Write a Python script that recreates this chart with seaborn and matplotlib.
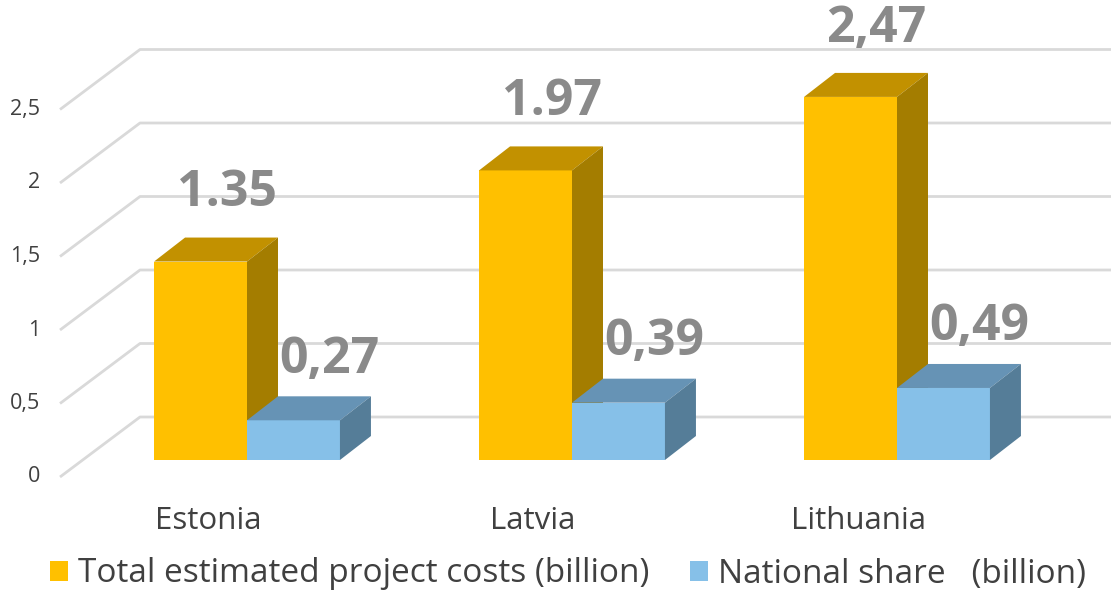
import matplotlib
matplotlib.use('Agg')
import matplotlib.pyplot as plt
from matplotlib.patches import Polygon, Patch
import pandas as pd
import seaborn as sns

# data
countries = ['Estonia', 'Latvia', 'Lithuania']
total_costs = [1.35, 1.97, 2.47]
national_share = [0.27, 0.39, 0.49]
total_labels = ['1.35', '1.97', '2,47']
share_labels = ['0,27', '0,39', '0,49']
series_names = ['Total estimated project costs (billion)', 'National share   (billion)']
yticks = [0, 0.5, 1, 1.5, 2, 2.5]
ytick_labels = ['0', '0,5', '1', '1,5', '2', '2,5']

front = ['#FFC000', '#86C0E8']
top = ['#C29100', '#6693B5']
side = ['#A47D00', '#557D98']

df = pd.DataFrame({
    'country': countries * 2,
    'value': total_costs + national_share,
    'series': [series_names[0]] * 3 + [series_names[1]] * 3,
})

sns.set_style('white')
plt.rcParams['font.family'] = ['Open Sans', 'DejaVu Sans']

fig = plt.figure(figsize=(11.11, 5.91), dpi=100)
ax = fig.add_axes([0, 0, 1, 1])

sns.barplot(data=df, x='country', y='value', hue='series', palette=front, saturation=1,
            width=0.572, ax=ax, legend=False, linewidth=0)

# pixel mapping: group centre 247px + 325px/unit, zero at 460px, 147px/unit
ax.set_xlim(-247 / 325, (1111 - 247) / 325)
ax.set_ylim((460 - 591) / 147, 460 / 147)
ax.axis('off')

# depth of a bar and of the back wall in data units
ddx, ddy = 31 / 325, 24 / 147
front_dx, front_dy = (60 - 247) / 325, -17 / 147
back_dx, back_dy = (140 - 247) / 325, 43 / 147
right_end = (1111 - 247) / 325

grid_c = '#D9D9D9'
for v, lab in zip(yticks, ytick_labels):
    ax.plot([front_dx, back_dx, right_end], [v + front_dy, v + back_dy, v + back_dy],
            color=grid_c, lw=2, zorder=1, solid_capstyle='butt')
    ax.text((40 - 247) / 325, v + front_dy, lab, ha='right', va='center',
            fontsize=15.5, color='#404040')

# 3d faces on top of the seaborn bars
nb = len(countries)
for i, p in enumerate(ax.patches[:2 * nb]):
    h = i // nb
    x0 = p.get_x()
    w = p.get_width()
    y1 = p.get_height()
    z = 3 + h
    p.set_zorder(z)
    ax.add_patch(Polygon([(x0, y1), (x0 + w, y1), (x0 + w + ddx, y1 + ddy), (x0 + ddx, y1 + ddy)],
                         closed=True, fc=top[h], lw=0, zorder=z))
    ax.add_patch(Polygon([(x0 + w, 0), (x0 + w, y1), (x0 + w + ddx, y1 + ddy), (x0 + w + ddx, ddy)],
                         closed=True, fc=side[h], lw=0, zorder=z))

# value labels
for i in range(nb):
    ax.text(i - 0.143 + 0.08, total_costs[i] + ddy + 0.3, total_labels[i], ha='center', va='center',
            fontsize=36, fontweight='bold', color='#8A8A8A', zorder=6)
    ax.text(i + 0.143 + 0.11, national_share[i] + ddy + 0.25, share_labels[i], ha='center', va='center',
            fontsize=36, fontweight='bold', color='#8A8A8A', zorder=6)

for i, c in enumerate(countries):
    ax.text(i - 0.12, -61 / 147, c, ha='center', va='center', fontsize=22.5, color='#404040')

handles = [Patch(fc=front[0], lw=0), Patch(fc=front[1], lw=0)]
ax.legend(handles, series_names, loc='center left', bbox_to_anchor=(50 / 1111, 1 - 574 / 591),
          bbox_transform=fig.transFigure, ncol=2, frameon=False, fontsize=24,
          handlelength=0.55, handleheight=0.55, handletextpad=0.3, columnspacing=1.2,
          labelcolor='#404040', borderpad=0, borderaxespad=0)

fig.savefig('out.png', dpi=100)
